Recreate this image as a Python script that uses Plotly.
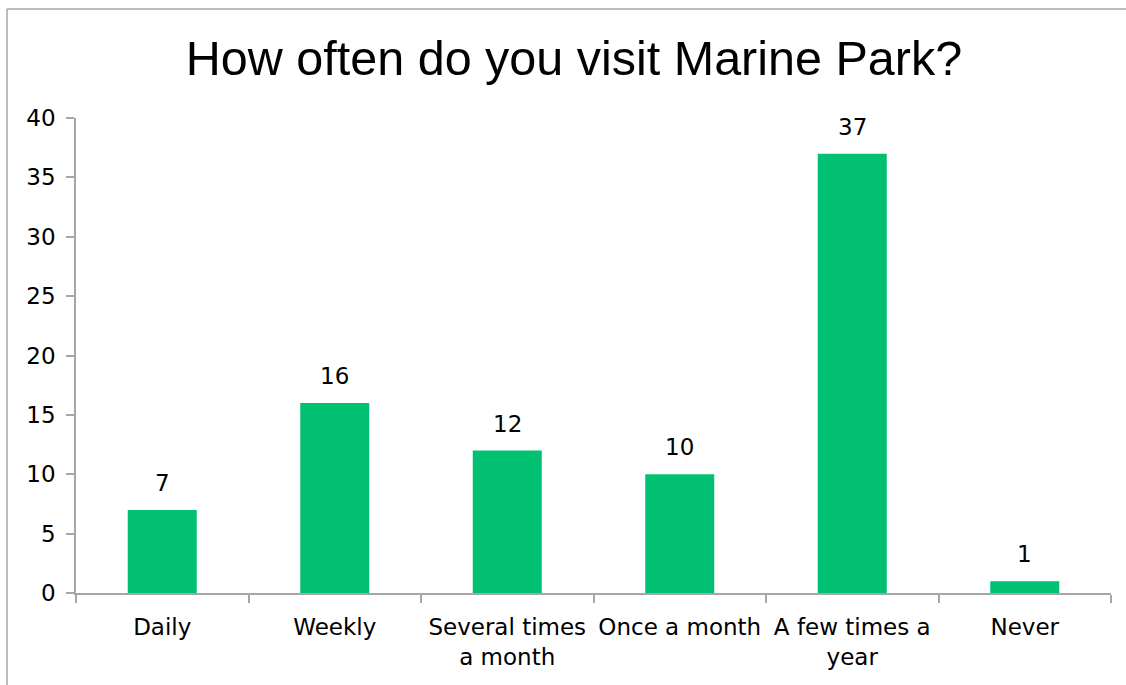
import plotly.graph_objects as go

# Survey responses: visit frequency
categories = ["Daily", "Weekly", "Several times<br>a month", "Once a month",
              "A few times a<br>year", "Never"]
counts = [7, 16, 12, 10, 37, 1]
y_ticks = [0, 5, 10, 15, 20, 25, 30, 35, 40]

BAR_COLOR = "#02C071"
AXIS_COLOR = "#A6A6A6"
LABEL_FONT = dict(family="DejaVu Sans", size=23, color="#000000")

fig = go.Figure()
fig.add_trace(go.Bar(
    x=categories,
    y=counts,
    marker=dict(color=BAR_COLOR, line=dict(width=0)),
    width=0.4,
    hoverinfo="x+y",
))

# value labels above each bar
for cat, val in zip(categories, counts):
    fig.add_annotation(
        x=cat, y=val, text=str(val), showarrow=False,
        xref="x", yref="y", yanchor="bottom", yshift=12,
        font=LABEL_FONT,
    )

W, H = 1126, 685
ml, mr, mt, mb = 76, 15, 118, 92
pw, ph = W - ml - mr, H - mt - mb

# outer chart border (left and top edges)
bx = (7 - ml) / pw
by = (H - mb - 9) / ph
fig.add_shape(type="line", xref="paper", yref="paper",
              x0=bx, x1=(W + 5 - ml) / pw, y0=by, y1=by,
              line=dict(color=AXIS_COLOR, width=1.5))
fig.add_shape(type="line", xref="paper", yref="paper",
              x0=bx, x1=bx, y0=by, y1=(H - mb - H - 5) / ph,
              line=dict(color=AXIS_COLOR, width=1.5))

fig.update_layout(
    width=W, height=H,
    margin=dict(l=ml, r=mr, t=mt, b=mb),
    paper_bgcolor="white", plot_bgcolor="white",
    showlegend=False,
    title=dict(text="How often do you visit Marine Park?",
               font=dict(family="Liberation Sans, Arial", size=48.5, color="#000000"),
               x=574 / W, xanchor="center", y=1 - 58 / H, yanchor="middle"),
    bargap=0.6,
)
fig.update_xaxes(
    showline=True, linecolor=AXIS_COLOR, linewidth=1.5,
    ticks="outside", tickson="boundaries", ticklen=8, tickcolor=AXIS_COLOR,
    tickwidth=1.5, showgrid=False, tickfont=LABEL_FONT, tickangle=0,
    ticklabelstandoff=13,
)
fig.update_yaxes(
    range=[0, 40], tickvals=y_ticks, showline=True, linecolor=AXIS_COLOR,
    linewidth=1.5, ticks="outside", ticklen=8, tickcolor=AXIS_COLOR,
    tickwidth=1.5, showgrid=False, zeroline=False, tickfont=LABEL_FONT,
    ticklabelstandoff=6,
)

fig.write_html("out.html")
